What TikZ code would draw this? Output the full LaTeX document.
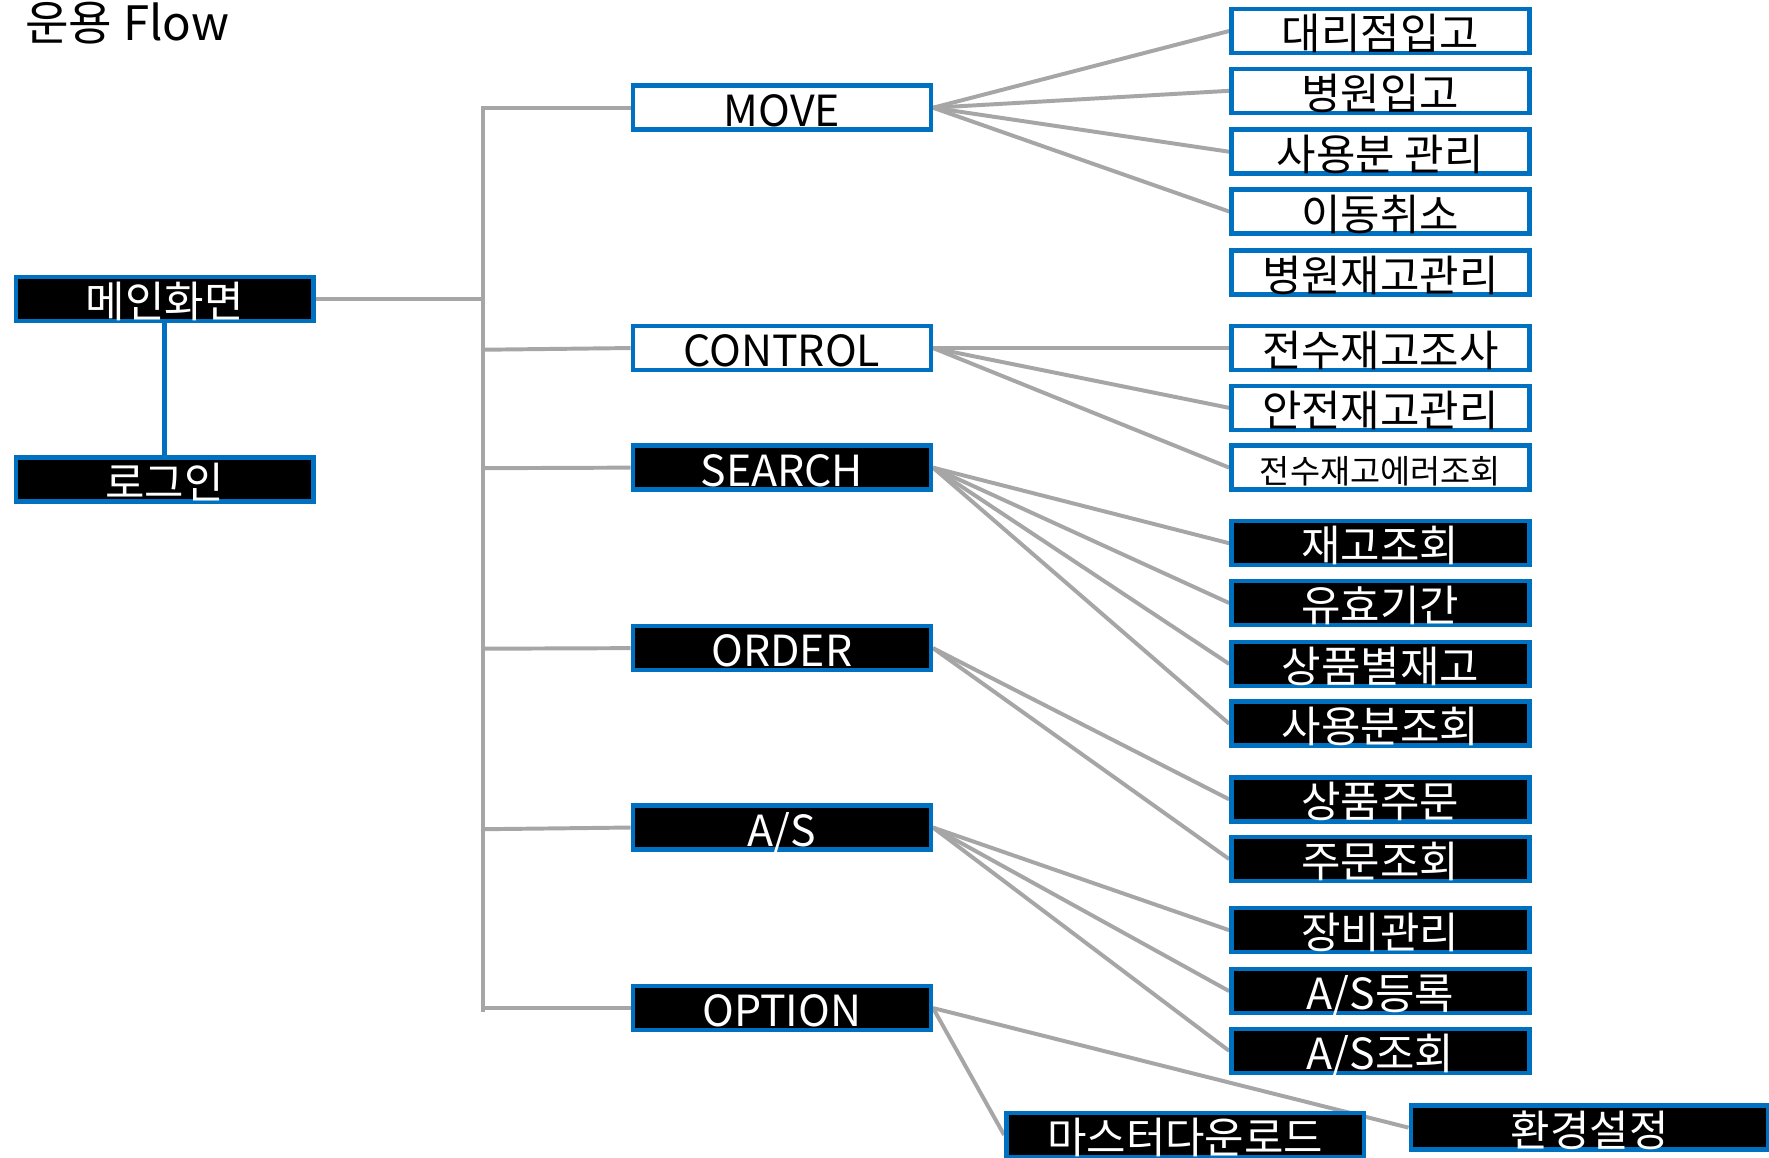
\documentclass[tikz,border=0pt]{standalone}
\usepackage{fontspec}
\setmainfont{Noto Sans CJK KR}
\definecolor{bblue}{RGB}{0,112,192}
\definecolor{lgray}{RGB}{166,166,166}
\pgfdeclarelayer{bg}
\pgfsetlayers{bg,main}
\begin{document}
\begin{tikzpicture}[x=0.5pt,y=-0.5pt,
 box/.style={draw=bblue, line width=2pt, minimum width=132pt, minimum height=19.5pt,
   inner sep=0pt, text height=16.5pt, text depth=0pt, font=\fontsize{19}{22}\selectfont},
 wbox/.style={box, fill=white, text=black},
 kbox/.style={box, fill=black, text=white},
 conn/.style={draw=lgray, line width=1.75pt},
 blink/.style={draw=bblue, line width=2pt},
]
\useasboundingbox (0,0) rectangle (1568,1026);

\node[anchor=base west, inner sep=0pt, font=\fontsize{21}{25}\selectfont] (title) at (22,36) {운용 Flow};

% left column
\node[kbox] (main) at (146,265) {메인화면};
\node[kbox] (login) at (146,425) {로그인};

% middle column
\node[wbox] (move) at (693,95.5) {MOVE};
\node[wbox] (control) at (693,308.5) {CONTROL};
\node[kbox] (search) at (693,414.5) {SEARCH};
\node[kbox] (order) at (693,574.5) {ORDER};
\node[kbox] (as) at (693,733.5) {A/S};
\node[kbox] (option) at (693,893.5) {OPTION};

% right column
\node[wbox] (r1) at (1223.5,27.5) {대리점입고};
\node[wbox] (r2) at (1223.5,80.5) {병원입고};
\node[wbox] (r3) at (1223.5,134.5) {사용분 관리};
\node[wbox] (r4) at (1223.5,187.5) {이동취소};
\node[wbox] (r5) at (1223.5,241.5) {병원재고관리};
\node[wbox] (r6) at (1223.5,308.5) {전수재고조사};
\node[wbox] (r7) at (1223.5,361.5) {안전재고관리};
\node[wbox, font=\fontsize{14.5}{17}\selectfont, text height=14pt] (r8) at (1223.5,414.5) {전수재고에러조회};
\node[kbox] (r9) at (1223.5,481.5) {재고조회};
\node[kbox] (r10) at (1223.5,534.5) {유효기간};
\node[kbox] (r11) at (1223.5,588.5) {상품별재고};
\node[kbox] (r12) at (1223.5,641.5) {사용분조회};
\node[kbox] (r13) at (1223.5,708.5) {상품주문};
\node[kbox] (r14) at (1223.5,761.5) {주문조회};
\node[kbox] (r15) at (1223.5,824.5) {장비관리};
\node[kbox] (r16) at (1223.5,878.5) {A/S등록};
\node[kbox] (r17) at (1223.5,931.5) {A/S조회};

\node[kbox, minimum width=158.5pt] (master) at (1050.5,1006) {마스터다운로드};
\node[kbox, minimum width=158.5pt] (env) at (1409,999.5) {환경설정};

% bus coordinates
\coordinate (bTop) at (428,95.5);
\coordinate (bMain) at (428,265);
\coordinate (bCtl) at (428,310);
\coordinate (bSea) at (428,415);
\coordinate (bOrd) at (428,575);
\coordinate (bAs) at (428,735);
\coordinate (bOpt) at (428,893.5);
\coordinate (bBot) at (428,897);

\begin{pgfonlayer}{bg}
\fill[white] (0,0) rectangle (1568,1026);
\draw[conn] (move.west) -- (bTop) -- (bBot);
\draw[conn] (main.east) -- (bMain);
\draw[conn] (bCtl) -- (control.west);
\draw[conn] (bSea) -- (search.west);
\draw[conn] (bOrd) -- (order.west);
\draw[conn] (bAs) -- (as.west);
\draw[conn] (bOpt) -- (option.west);
\draw[blink] (main.south) -- (login.north);

\foreach \t in {r1,r2,r3,r4} \draw[conn] (move.east) -- (\t.west);
\foreach \t in {r6,r7,r8} \draw[conn] (control.east) -- (\t.west);
\foreach \t in {r9,r10,r11,r12} \draw[conn] (search.east) -- (\t.west);
\foreach \t in {r13,r14} \draw[conn] (order.east) -- (\t.west);
\foreach \t in {r15,r16,r17} \draw[conn] (as.east) -- (\t.west);
\draw[conn] (option.east) -- (env.west);
\draw[conn] (option.east) -- (master.west);
\end{pgfonlayer}
\end{tikzpicture}
\end{document}
